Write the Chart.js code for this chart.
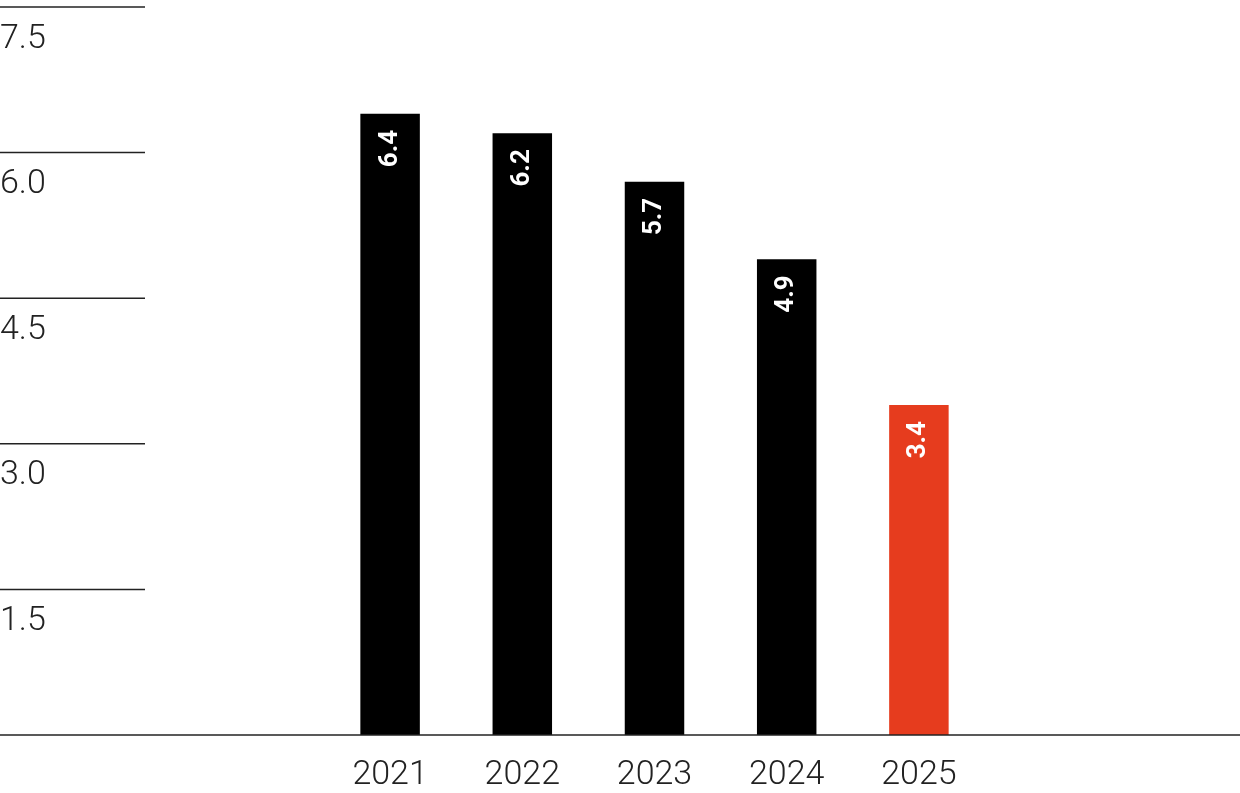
<!DOCTYPE html>
<html>
<head>
<meta charset="utf-8">
<script src="https://cdn.jsdelivr.net/npm/chart.js@4"></script>
<style>
  body { margin: 0; background: #fff; }
  canvas { display: block; }
</style>
</head>
<body>
<canvas id="chart" width="1240" height="793"></canvas>
<script>
const years = ["2021", "2022", "2023", "2024", "2025"];
const values = [6.4, 6.2, 5.7, 4.9, 3.4];
const barColors = ["#000000", "#000000", "#000000", "#000000", "#e63c1e"];
const yTicks = [1.5, 3.0, 4.5, 6.0, 7.5];

// left-side short gridlines, tick labels, full-width baseline, rotated value labels
const decorations = {
    id: "decorations",
    afterDatasetsDraw(chart) {
        const ctx = chart.ctx;
        const y = chart.scales.y;
        ctx.save();
        ctx.strokeStyle = "#222";
        ctx.lineWidth = 1.5;
        ctx.fillStyle = "#222";
        ctx.font = "300 34px Roboto";
        ctx.textBaseline = "top";
        yTicks.forEach(t => {
            const py = y.getPixelForValue(t);
            ctx.beginPath();
            ctx.moveTo(0, py);
            ctx.lineTo(145, py);
            ctx.stroke();
            ctx.fillText(t.toFixed(1), 0, py + 15);
        });
        const base = y.getPixelForValue(0);
        ctx.beginPath();
        ctx.moveTo(0, base);
        ctx.lineTo(chart.width, base);
        ctx.stroke();

        ctx.fillStyle = "#fff";
        ctx.font = "bold 26px Roboto";
        ctx.textAlign = "right";
        ctx.textBaseline = "middle";
        chart.getDatasetMeta(0).data.forEach((bar, i) => {
            ctx.save();
            ctx.translate(bar.x, bar.y + 16);
            ctx.rotate(-Math.PI / 2);
            ctx.fillText(values[i].toFixed(1), 0, 0);
            ctx.restore();
        });
        ctx.restore();
    }
};

new Chart(document.getElementById("chart").getContext("2d"), {
    type: "bar",
    data: {
        labels: years,
        datasets: [{
            data: values,
            backgroundColor: barColors,
            barPercentage: 0.45,
            categoryPercentage: 1,
        }],
    },
    options: {
        responsive: false,
        animation: false,
        layout: { padding: { left: 324, right: 255, top: 7, bottom: 0 } },
        plugins: { legend: { display: false }, tooltip: { enabled: false } },
        scales: {
            y: { min: 0, max: 7.5, display: false },
            x: {
                grid: { display: false },
                border: { display: false },
                ticks: { color: "#222", font: { family: "Roboto", size: 34, weight: 300 }, padding: 12 },
                afterFit: (scale) => { scale.height = 58; },
            },
        },
    },
    plugins: [decorations],
});
</script>
</body>
</html>
